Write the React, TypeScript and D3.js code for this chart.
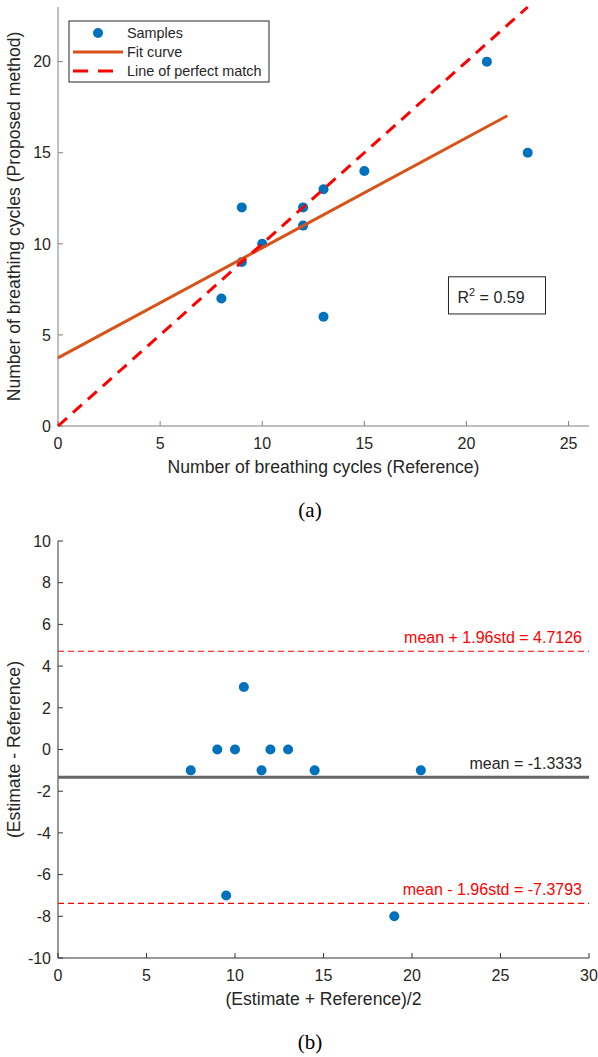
import React from 'react';
import * as d3 from 'd3';

// (a) scatter: reference vs. proposed method
const refCycles = [8, 9, 9, 10, 12, 12, 13, 13, 15, 21, 23];
const estCycles = [7, 12, 9, 10, 12, 11, 13, 6, 14, 20, 15];
const fitX = [0, 22];
const fitY = [3.74, 17.03];
const perfectX = [0, 23];
const rSquared = '0.59';
const scatterXTicks = [0, 5, 10, 15, 20, 25];
const scatterYTicks = [0, 5, 10, 15, 20];

// (b) Bland-Altman
const baMean = [7.5, 9, 10, 10.5, 11.5, 12, 13, 9.5, 14.5, 20.5, 19];
const baDiff = [-1, 0, 0, 3, -1, 0, 0, -7, -1, -1, -8];
const meanDiff = -1.3333;
const upperLoA = 4.7126;
const lowerLoA = -7.3793;
const baXTicks = [0, 5, 10, 15, 20, 25, 30];
const baYTicks = [-10, -8, -6, -4, -2, 0, 2, 4, 6, 8, 10];

const FONT = '"Liberation Sans", Arial, Helvetica, sans-serif';
const SERIF = '"Liberation Serif", "Times New Roman", serif';
const TEXT = '#262626';
const BLUE = '#0072BD';
const ORANGE = '#D95319';

const W = 598;
const H = 1057;
const left = 58;
const right = 589;

const Axes = ({ x, y, xTicks, yTicks, color, xLabel, yLabel, caption }) => {
    const [x0, x1] = x.range();
    const [y0, y1] = y.range();
    return (
        <g fontFamily={FONT} fill={TEXT}>
            <line x1={x0} x2={x1} y1={y0} y2={y0} stroke={color} strokeWidth={1} />
            <line x1={x0} x2={x0} y1={y0} y2={y1} stroke={color} strokeWidth={1} />
            {xTicks.map(t => (
                <g key={'x' + t}>
                    <line x1={x(t)} x2={x(t)} y1={y0} y2={y0 - 5} stroke={color} />
                    <text x={x(t)} y={y0 + 23} textAnchor="middle" fontSize={16}>{t}</text>
                </g>
            ))}
            {yTicks.map(t => (
                <g key={'y' + t}>
                    <line x1={x0} x2={x0 + 5} y1={y(t)} y2={y(t)} stroke={color} />
                    <text x={x0 - 7} y={y(t)} dy="0.36em" textAnchor="end" fontSize={16}>{t}</text>
                </g>
            ))}
            <text x={(x0 + x1) / 2} y={y0 + 47} textAnchor="middle" fontSize={17.6}>{xLabel}</text>
            <text transform={`translate(20,${(y0 + y1) / 2}) rotate(-90)`} textAnchor="middle" fontSize={17.6}>{yLabel}</text>
            <text x={310} y={y0 + 91} textAnchor="middle" fontSize={21} fontFamily={SERIF} fill="#000">{caption}</text>
        </g>
    );
};

const App = () => {
    // scatter scales
    const sx = d3.scaleLinear().domain([0, 26]).range([left, right]);
    const sy = d3.scaleLinear().domain([0, 23]).range([426, 7]);
    const line = d3.line().x(d => sx(d[0])).y(d => sy(d[1]));
    const fitPath = line(fitX.map((v, i) => [v, fitY[i]]));
    const perfectPath = line(perfectX.map(v => [v, v]));

    // Bland-Altman scales
    const bx = d3.scaleLinear().domain([0, 30]).range([left, right]);
    const by = d3.scaleLinear().domain([-10, 10]).range([958, 541]);

    const legendItems = [
        { label: 'Samples', kind: 'dot' },
        { label: 'Fit curve', kind: 'fit' },
        { label: 'Line of perfect match', kind: 'dash' },
    ];

    return (
        <svg width={W} height={H} style={{ position: 'absolute', left: 0, top: 0, display: 'block' }}>
            <rect width={W} height={H} fill="#fff" />

            {/* (a) */}
            <Axes
                x={sx} y={sy} xTicks={scatterXTicks} yTicks={scatterYTicks} color="#808080"
                xLabel="Number of breathing cycles (Reference)"
                yLabel="Number of breathing cycles (Proposed method)"
                caption="(a)"
            />
            {refCycles.map((r, i) => (
                <circle key={i} cx={sx(r)} cy={sy(estCycles[i])} r={5} fill={BLUE} />
            ))}
            <path d={fitPath} stroke={ORANGE} strokeWidth={3} fill="none" />
            <path d={perfectPath} stroke="#ff0000" strokeWidth={3} strokeDasharray="12 8" fill="none" />

            {/* legend */}
            <g fontFamily={FONT} fontSize={14.4} fill={TEXT}>
                <rect x={69} y={21} width={200} height={61} fill="#fff" stroke={TEXT} strokeWidth={1} />
                {legendItems.map((d, i) => {
                    const cy = 33 + i * 19;
                    return (
                        <g key={d.label}>
                            {d.kind === 'dot' && <circle cx={98} cy={cy} r={5} fill={BLUE} />}
                            {d.kind === 'fit' && <line x1={73} x2={123} y1={cy} y2={cy} stroke={ORANGE} strokeWidth={3} />}
                            {d.kind === 'dash' && <line x1={73} x2={123} y1={cy} y2={cy} stroke="#ff0000" strokeWidth={3} strokeDasharray="15 10" />}
                            <text x={127} y={cy} dy="0.36em">{d.label}</text>
                        </g>
                    );
                })}
            </g>

            {/* R^2 box */}
            <g fontFamily={FONT} fill={TEXT}>
                <rect x={sx(19.12)} y={sy(8.19)} width={sx(23.87) - sx(19.12)} height={sy(6.15) - sy(8.19)}
                    fill="#fff" stroke={TEXT} strokeWidth={1} />
                <text x={sx(19.12) + 9} y={sy(8.19) + 26} fontSize={16}>
                    R<tspan dy={-7} fontSize={11}>2</tspan><tspan dy={7}> = {rSquared}</tspan>
                </text>
            </g>

            {/* (b) */}
            <Axes
                x={bx} y={by} xTicks={baXTicks} yTicks={baYTicks} color="#333"
                xLabel="(Estimate + Reference)/2"
                yLabel="(Estimate - Reference)"
                caption="(b)"
            />
            <line x1={bx(0)} x2={bx(30)} y1={by(meanDiff)} y2={by(meanDiff)} stroke="#666" strokeWidth={3} />
            <line x1={bx(0)} x2={bx(30)} y1={by(upperLoA)} y2={by(upperLoA)} stroke="#ff0000" strokeWidth={1.2} strokeDasharray="6 4" />
            <line x1={bx(0)} x2={bx(30)} y1={by(lowerLoA)} y2={by(lowerLoA)} stroke="#ff0000" strokeWidth={1.2} strokeDasharray="6 4" />
            {baMean.map((m, i) => (
                <circle key={i} cx={bx(m)} cy={by(baDiff[i])} r={5} fill={BLUE} />
            ))}
            <g fontFamily={FONT} fontSize={16} textAnchor="end">
                <text x={bx(30) - 7} y={by(upperLoA) - 8} fill="#ff0000">mean + 1.96std = {upperLoA}</text>
                <text x={bx(30) - 7} y={by(meanDiff) - 8} fill={TEXT}>mean = {meanDiff}</text>
                <text x={bx(30) - 7} y={by(lowerLoA) - 8} fill="#ff0000">mean - 1.96std = {lowerLoA}</text>
            </g>
        </svg>
    );
};

export default App;
